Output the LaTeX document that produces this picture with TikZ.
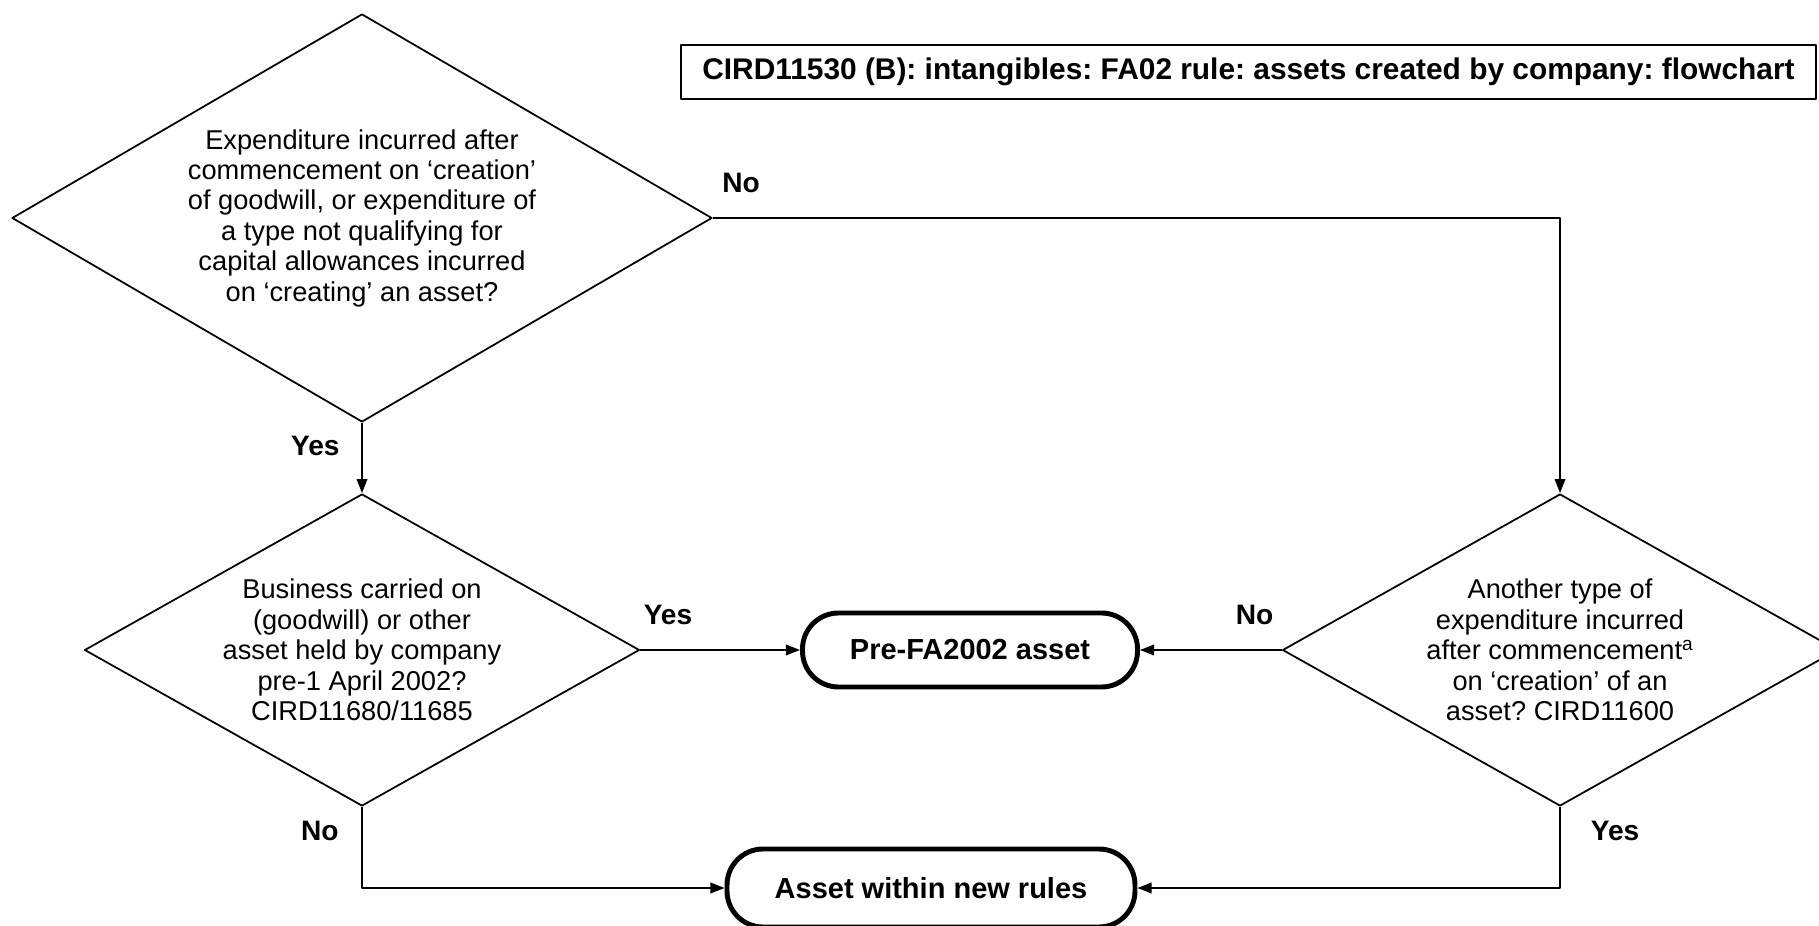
\documentclass[tikz,border=0pt]{standalone}
\usepackage{fontspec}
\setmainfont{Liberation Sans}
\frenchspacing
\usetikzlibrary{shapes.geometric,arrows.meta}

\begin{document}
\begin{tikzpicture}[line join=round, >={Triangle[length=8pt,width=6pt]},
		decision/.style={diamond, draw, line width=1pt, inner sep=0pt, align=center, font=\fontsize{15.5}{17.3}\selectfont, minimum width=11.1cm, minimum height=6.24cm, aspect=1.78},
		endbox/.style={draw, line width=2.8pt, rounded corners=0.72cm, minimum height=1.48cm, font=\fontsize{16.5}{19}\selectfont\bfseries},
		lbl/.style={inner sep=0pt, font=\fontsize{16}{19}\selectfont\bfseries},
		conn/.style={->, line width=1pt}]
	\useasboundingbox (0,0) rectangle (36.38,18.5);
	\clip (0,0) rectangle (36.38,18.5);
	% title
	\node[draw, line width=1.2pt, minimum width=22.7cm, minimum height=1.08cm, font=\fontsize{17}{20}\selectfont\bfseries] (title) at (24.97,17.06) {CIRD11530 (B): intangibles: FA02 rule: assets created by company: flowchart};
	% questions
	\node[decision, minimum width=14cm, minimum height=8.16cm, aspect=1.72] (q1) at (7.24,14.14) {Expenditure incurred after\\commencement on ‘creation’\\of goodwill, or expenditure of\\a type not qualifying for\\capital allowances incurred\\on ‘creating’ an asset?};
	\node[decision] (q2) at (7.24,5.5) {Business carried on\\(goodwill) or other\\asset held by company\\pre-1 April 2002?\\CIRD11680/11685};
	\node[decision] (q3) at (31.2,5.5) {Another type of\\expenditure incurred\\after commencement\textsuperscript{a}\\on ‘creation’ of an\\asset? CIRD11600};
	% outcomes
	\node[endbox, minimum width=6.7cm] (pre) at (19.4,5.5) {Pre-FA2002 asset};
	\node[endbox, minimum width=8.16cm, minimum height=1.56cm] (new) at (18.62,0.74) {Asset within new rules};
	% connectors
	\draw[conn] (q1.east) -| node[lbl, pos=0, anchor=base west, xshift=0.17cm, yshift=0.5cm] (no1) {No} (q3.north);
	\draw[conn] (q1.south) -- node[lbl, pos=0, anchor=base east, xshift=-0.43cm, yshift=-0.66cm] (yes1) {Yes} (q2.north);
	\draw[conn] (q2.east) -- node[lbl, pos=0, anchor=base west, xshift=0.05cm, yshift=0.5cm] (yes2) {Yes} (pre.west);
	\draw[conn] (q3.west) -- node[lbl, pos=0, anchor=base east, xshift=-0.15cm, yshift=0.5cm] (no2) {No} (pre.east);
	\draw[conn] (q2.south) |- node[lbl, pos=0, anchor=base east, xshift=-0.45cm, yshift=-0.68cm] (no3) {No} (new.west);
	\draw[conn] (q3.south) |- node[lbl, pos=0, anchor=base west, xshift=0.6cm, yshift=-0.68cm] (yes3) {Yes} (new.east);
\end{tikzpicture}
\end{document}
